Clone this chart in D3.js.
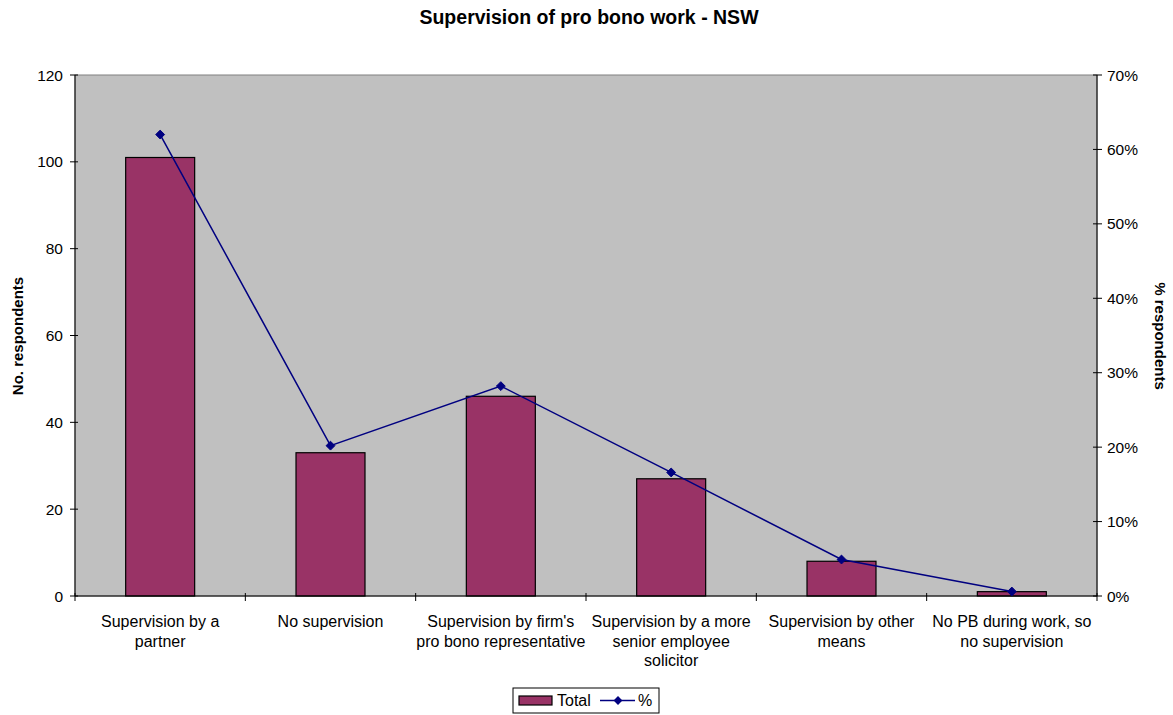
<!DOCTYPE html>
<html><head><meta charset="utf-8">
<script src="https://cdn.jsdelivr.net/npm/d3@7"></script>
<style>body{margin:0;background:#fff;} text{font-family:"Liberation Sans",Arial,sans-serif;}</style>
</head><body>
<svg id="c" width="1173" height="715"></svg>
<script>
const categories = ["Supervision by a partner","No supervision","Supervision by firm's pro bono representative","Supervision by a more senior employee solicitor","Supervision by other means","No PB during work, so no supervision"];
const categoryLines = [["Supervision by a","partner"],["No supervision"],["Supervision by firm's","pro bono representative"],["Supervision by a more","senior employee","solicitor"],["Supervision by other","means"],["No PB during work, so","no supervision"]];
const totals = [101,33,46,27,8,1];
const percents = [62.0,20.2,28.2,16.6,4.9,0.6];
const leftTicks = [0,20,40,60,80,100,120];
const rightTicks = [0,10,20,30,40,50,60,70];

const svg = d3.select("#c");
const L=75,R=1097,T=75,B=596;
const x = d3.scaleBand().domain(categories).range([L,R]);
const yL = d3.scaleLinear().domain([0,120]).range([B,T]);
const yR = d3.scaleLinear().domain([0,70]).range([B,T]);

svg.append("rect").attr("x",L).attr("y",T).attr("width",R-L).attr("height",B-T).attr("fill","#c0c0c0").attr("stroke","#808080").attr("stroke-width",1);

svg.append("text").attr("x",589).attr("y",24).attr("text-anchor","middle").attr("font-weight","bold").attr("font-size","19.5px").text("Supervision of pro bono work - NSW");

const bw = x.bandwidth()*0.405;
svg.append("g").selectAll("rect").data(categories).join("rect")
  .attr("x",d=>x(d)+x.bandwidth()/2-bw/2).attr("width",bw)
  .attr("y",(d,i)=>yL(totals[i])).attr("height",(d,i)=>B-yL(totals[i]))
  .attr("fill","#993366").attr("stroke","#000").attr("stroke-width",1.2);

// left axis
const gl = svg.append("g").attr("transform",`translate(${L},0)`);
gl.append("line").attr("y1",T).attr("y2",B).attr("stroke","#000");
gl.selectAll("line.t").data(leftTicks).join("line").attr("class","t").attr("x1",-5).attr("x2",3).attr("y1",d=>yL(d)).attr("y2",d=>yL(d)).attr("stroke","#000");
gl.selectAll("text").data(leftTicks).join("text").attr("x",-12).attr("y",d=>yL(d)+5.5).attr("text-anchor","end").attr("font-size","15.5px").text(d=>d);

// right axis
const gr = svg.append("g").attr("transform",`translate(${R},0)`);
gr.append("line").attr("y1",T).attr("y2",B).attr("stroke","#000");
gr.selectAll("line.t").data(rightTicks).join("line").attr("class","t").attr("x1",-4).attr("x2",5).attr("y1",d=>yR(d)).attr("y2",d=>yR(d)).attr("stroke","#000");
gr.selectAll("text").data(rightTicks).join("text").attr("x",10).attr("y",d=>yR(d)+5.5).attr("text-anchor","start").attr("font-size","15.5px").text(d=>d+"%");

// x axis
const gx = svg.append("g");
gx.append("line").attr("x1",L).attr("x2",R).attr("y1",B).attr("y2",B).attr("stroke","#000");
const bounds = categories.map(c=>x(c)).concat([R]);
gx.selectAll("line.t").data(bounds).join("line").attr("class","t").attr("x1",d=>d).attr("x2",d=>d).attr("y1",B-3).attr("y2",B+5).attr("stroke","#000");
categories.forEach((c,i)=>{
  const t = gx.append("text").attr("text-anchor","middle").attr("font-size","16px");
  categoryLines[i].forEach((ln,j)=>{
    t.append("tspan").attr("x",x(c)+x.bandwidth()/2).attr("y",627+j*19.5).text(ln);
  });
});

// line
const line = d3.line().x((d,i)=>x(categories[i])+x.bandwidth()/2).y(d=>yR(d));
svg.append("path").attr("d",line(percents)).attr("fill","none").attr("stroke","#000080").attr("stroke-width",1.5);
const diamond = d3.symbol().type(d3.symbolDiamond2).size(50);
svg.append("g").selectAll("path").data(percents).join("path")
  .attr("d",diamond).attr("transform",(d,i)=>`translate(${x(categories[i])+x.bandwidth()/2},${yR(d)})`)
  .attr("fill","#000080").attr("stroke","#000080");

// axis titles
svg.append("text").attr("transform","translate(23,336) rotate(-90)").attr("text-anchor","middle").attr("font-weight","bold").attr("font-size","15px").text("No. respondents");
svg.append("text").attr("transform","translate(1155,336) rotate(90)").attr("text-anchor","middle").attr("font-weight","bold").attr("font-size","15px").text("% respondents");

// legend
const lg = svg.append("g");
lg.append("rect").attr("x",513).attr("y",688).attr("width",146).attr("height",25).attr("fill","#fff").attr("stroke","#000");
lg.append("rect").attr("x",519).attr("y",696).attr("width",33).attr("height",9).attr("fill","#993366").attr("stroke","#000").attr("stroke-width",1.2);
lg.append("text").attr("x",557).attr("y",706).attr("font-size","16px").text("Total");
lg.append("line").attr("x1",600).attr("x2",635).attr("y1",700.5).attr("y2",700.5).attr("stroke","#000080").attr("stroke-width",1.5);
lg.append("path").attr("d",diamond).attr("transform","translate(618,700.5)").attr("fill","#000080");
lg.append("text").attr("x",638).attr("y",706).attr("font-size","16px").text("%");
</script>
</body></html>
